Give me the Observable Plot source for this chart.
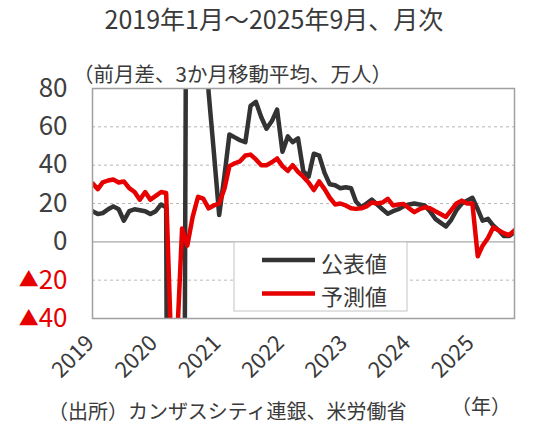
<!DOCTYPE html>
<html><head><meta charset="utf-8">
<script src="https://cdn.jsdelivr.net/npm/d3@7"></script>
<script src="https://cdn.jsdelivr.net/npm/@observablehq/plot@0.6"></script>
<style>
html,body{margin:0;padding:0;background:#fff;}
#chart{width:540px;height:433px;}
svg text{font-family:"Noto Sans CJK JP","Noto Sans",sans-serif;}
</style></head><body><div id="chart"></div>
<script>
// 公表値 (published), 3-month moving average of monthly change, 万人
const published2019 = [16, 14.5, 15, 17, 18.5, 17, 11, 16, 17, 16.5, 16, 14.5];
const published2020 = [16, 19.5, 18, -700, -640, -430, 300, 260, 150, 120, 78, 47];
const published2021 = [14, 35, 56, 54.5, 53, 52, 71, 73, 65, 59, 63, 69];
const published2022 = [47, 55, 52, 54, 37, 34, 46, 45, 36, 30, 29.5, 28];
const published2023 = [28.5, 28, 21, 18, 20, 22, 19.5, 17, 14.7, 16, 17, 18.5];
const published2024 = [19.5, 20, 19.5, 19, 16, 12, 10, 8, 11.5, 16.5, 20, 21.5];
const published2025 = [23, 17, 11, 12, 8.5, 6, 3, 3, 5];
// 予測値 (forecast)
const forecast2019 = [30.5, 27.5, 31, 32, 32.5, 31, 31.5, 28, 26, 22, 26, 22];
const forecast2020 = [24, 26, 25.5, -60, -55, 7, -2, 13, 23.5, 22.5, 17.5, 19];
const forecast2021 = [20, 28, 39.5, 41, 42, 45, 45.5, 43, 40, 40, 41.5, 43.5];
const forecast2022 = [39.5, 37, 40, 36.5, 34, 31, 27, 31.5, 27.5, 23, 19.5, 20];
const forecast2023 = [19, 17.5, 17.2, 17.5, 18.5, 20.5, 20, 20.5, 22.4, 19, 19.5, 19.8];
const forecast2024 = [17.5, 15.5, 17, 18, 17.5, 16, 14.5, 13, 16.5, 20, 21.5, 20];
const forecast2025 = [20, -7.5, -2, 2, 7.5, 6, 4.5, 3.5, 6];

const yearLabels = [2019, 2020, 2021, 2022, 2023, 2024, 2025];
const yTicksPos = [0, 20, 40, 60, 80];
const yTicksNeg = [-20, -40];
const dashedGrid = [-20, 20, 40, 60];

const published = [].concat(published2019, published2020, published2021, published2022, published2023, published2024, published2025);
const forecast = [].concat(forecast2019, forecast2020, forecast2021, forecast2022, forecast2023, forecast2024, forecast2025);
const months = d3.utcMonth.range(new Date(Date.UTC(2019, 0, 1)), new Date(Date.UTC(2025, 9, 1)));
const pubData = months.map((d, i) => ({date: d, value: published[i]}));
const fcData = months.map((d, i) => ({date: d, value: forecast[i]}));

const ink = "#3a3a3a";
const red = "#e60000";

const plot = Plot.plot({
  width: 540, height: 433,
  marginLeft: 92, marginRight: 26, marginTop: 88, marginBottom: 115,
  style: {background: "#fff", overflow: "visible", fontFamily: "'Noto Sans CJK JP', sans-serif"},
  x: {type: "utc", domain: [months[0], months[months.length - 1]], axis: null},
  y: {domain: [-40, 80], axis: null},
  marks: [
    Plot.ruleY(dashedGrid, {stroke: "#b8b8b8", strokeDasharray: "3,3", strokeWidth: 1}),
    Plot.ruleY([0], {stroke: "#a8a8a8", strokeWidth: 1.2}),
    Plot.line(pubData, {x: "date", y: "value", stroke: "#333333", strokeWidth: 4.5, strokeLinejoin: "round", clip: true}),
    Plot.line(fcData, {x: "date", y: "value", stroke: red, strokeWidth: 4.5, strokeLinejoin: "round", clip: true}),
    Plot.frame({stroke: "#a0a0a0", strokeWidth: 1.5}),
    Plot.axisY(yTicksPos, {tickSize: 0, tickPadding: 25, fontSize: 26, fill: "#404040", label: null, tickFormat: d => String(d)}),
    Plot.axisY(yTicksNeg, {tickSize: 0, tickPadding: 25, fontSize: 26, fill: red, label: null, className: "negaxis", tickFormat: d => "▲" + (-d)}),
    Plot.text(yearLabels, {x: d => new Date(Date.UTC(d, 0, 1)), frameAnchor: "bottom", text: d => String(d),
      rotate: -45, textAnchor: "end", lineAnchor: "middle", dy: 21, dx: -2, fontSize: 22, fill: ink})
  ]
});

const svg = d3.select(plot);
// smaller triangle glyph for negative labels
svg.selectAll(".negaxis text").each(function() {
  const t = d3.select(this);
  const s = t.text();
  if (s.startsWith("▲")) {
    t.text("");
    t.append("tspan").attr("font-size", 20).attr("dy", "-0.05em").text("▲");
    t.append("tspan").attr("dy", "0.05em").text(s.slice(1));
  }
});

function addText(x, y, txt, size, anchor) {
  svg.append("text").attr("x", x).attr("y", y).attr("text-anchor", anchor || "start")
    .attr("dominant-baseline", "central").attr("font-size", size).attr("fill", ink).text(txt);
}
addText(274, 18, "2019年1月～2025年9月、月次", 25, "middle");
addText(73, 73, "（前月差、3か月移動平均、万人）", 20.5);
addText(48, 410, "（出所）カンザスシティ連銀、米労働省", 20);
addText(451, 405, "（年）", 20);

// legend
const lg = svg.append("g");
lg.append("rect").attr("x", 234).attr("y", 242).attr("width", 173).attr("height", 69)
  .attr("fill", "#fff").attr("stroke", "#c4c4c4").attr("stroke-width", 1);
const legendItems = [{label: "公表値", color: "#333333"}, {label: "予測値", color: red}];
legendItems.forEach((it, k) => {
  const y = 260 + k * 33.5;
  lg.append("line").attr("x1", 262).attr("x2", 315).attr("y1", y).attr("y2", y)
    .attr("stroke", it.color).attr("stroke-width", 4.5);
  lg.append("text").attr("x", 321).attr("y", y + 1.5).attr("text-anchor", "start")
    .attr("dominant-baseline", "central")
    .attr("font-size", 22).attr("fill", ink).text(it.label);
});

document.getElementById("chart").appendChild(plot);
</script>
</body></html>
